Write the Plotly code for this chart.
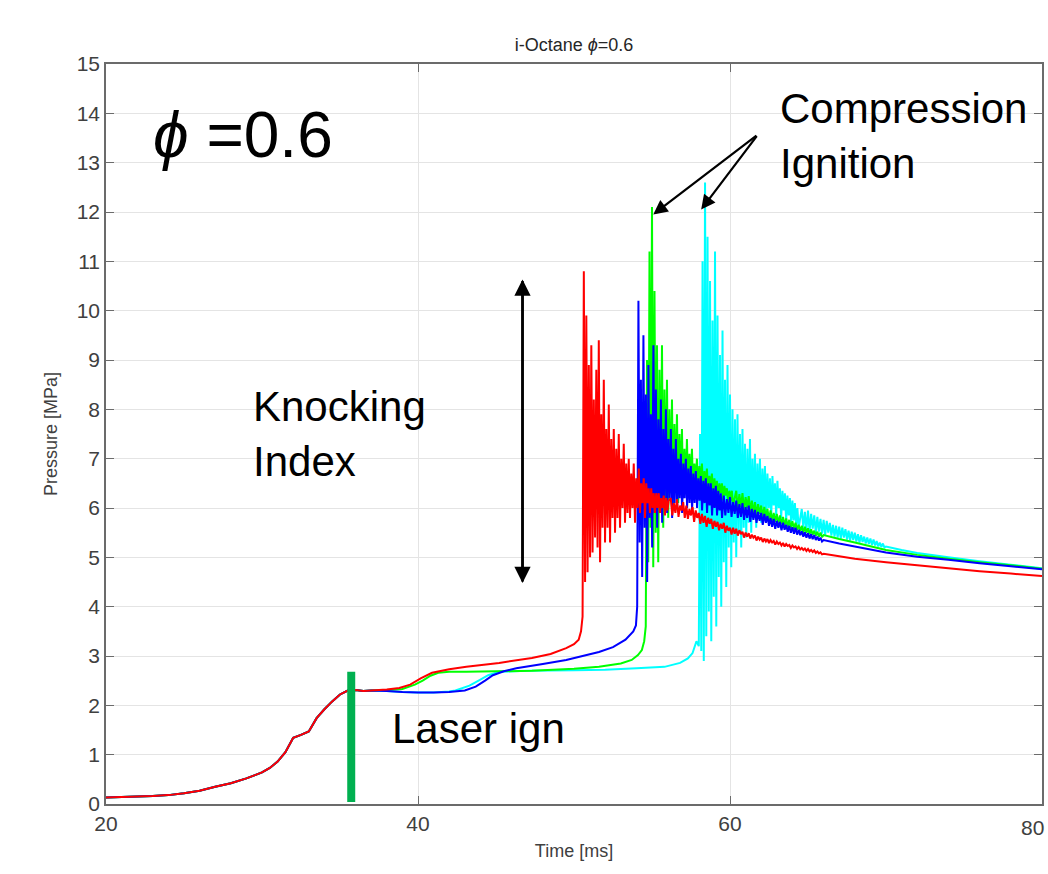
import plotly.graph_objects as go

# ---------------- data ----------------
# shared compression stroke before laser ignition (time ms, pressure MPa)
common_t = [20, 21, 22, 23, 24, 25, 26, 27, 28, 29, 30, 30.5, 31, 31.5, 32, 32.5,
            33, 33.5, 34, 34.5, 35, 35.5, 36, 36.5, 37]
common_p = [0.13, 0.14, 0.15, 0.16, 0.18, 0.22, 0.27, 0.35, 0.42, 0.52, 0.64, 0.73,
            0.86, 1.05, 1.34, 1.40, 1.47, 1.74, 1.92, 2.08, 2.22, 2.30, 2.31, 2.29, 2.30]

OSC_STEP = 0.08   # sampling of the knocking oscillation segment (ms)
RING_STEP = 0.1   # sampling of the decaying ringing segment (ms)

x_ticks = [20, 40, 60, 80]

# ---- red run
red_pre_t = [38, 38.8, 39.5, 40.2, 40.9, 42, 43.1, 45.2, 47.3, 48.5, 49.5, 50.0, 50.3, 50.45]
red_pre_p = [2.32, 2.35, 2.42, 2.55, 2.66, 2.73, 2.78, 2.86, 2.96, 3.04, 3.16, 3.24, 3.33, 3.5]
red_osc_t0 = 50.55
red_osc = [3.8, 10.8, 4.5, 9.9, 4.7, 8.9,
           5.0, 9.3, 5.1, 8.2, 5.4, 8.8, 5.2,
           9.4, 4.9, 7.9, 5.6, 8.6, 5.3, 7.6,
           5.6, 8.1, 5.3, 7.4, 5.8, 7.6, 5.5,
           7.2, 5.8, 7.5, 5.6, 7.0, 6.0, 7.3,
           5.7, 6.9, 5.9, 7.0, 5.8, 6.7, 6.0,
           6.9, 5.7, 6.6, 6.0, 6.8, 5.9, 6.5,
           6.1, 6.6, 5.8, 6.5, 6.1, 6.4, 5.9,
           6.4, 6.0, 6.3, 5.9, 6.3, 6.0, 6.3,
           5.9, 6.2, 6.0, 6.25, 5.85, 6.2, 5.95, 6.15]
red_ring_t0 = 56.2
red_ring = [6.2, 5.85, 6.1, 5.9, 6.18, 5.82, 6.05, 5.95, 6.12, 5.8,
            6.05, 5.78, 5.98, 5.85, 6.02, 5.72, 5.95, 5.8, 5.9, 5.68,
            5.88, 5.7, 5.84, 5.62, 5.8, 5.68, 5.78, 5.58, 5.74, 5.62,
            5.72, 5.55, 5.68, 5.58, 5.7, 5.5, 5.64, 5.54, 5.6, 5.46,
            5.6, 5.48, 5.58, 5.44, 5.55, 5.47, 5.52, 5.4, 5.5, 5.42,
            5.49, 5.38, 5.46, 5.4, 5.44, 5.34, 5.42, 5.36, 5.4, 5.31,
            5.38, 5.32, 5.37, 5.29, 5.35, 5.3, 5.33, 5.26, 5.32, 5.27,
            5.3, 5.24, 5.29, 5.22, 5.27, 5.23, 5.25, 5.19, 5.24, 5.2,
            5.22, 5.17, 5.21, 5.16, 5.19, 5.15, 5.18, 5.13, 5.17, 5.12,
            5.15, 5.11, 5.14, 5.09, 5.12, 5.08, 5.1, 5.06, 5.07]
red_dec_t = [67, 68, 70, 72, 74, 76, 78, 80]
red_dec_p = [5.02, 4.97, 4.9, 4.84, 4.78, 4.72, 4.67, 4.62]

# ---- blue run
blue_pre_t = [38, 39, 40, 41, 42, 43, 43.7, 44.3, 44.8, 45.5, 46.3, 48, 49.5, 51.6,
              52.5, 53.3, 53.8, 53.97]
blue_pre_p = [2.29, 2.27, 2.26, 2.26, 2.27, 2.30, 2.38, 2.50, 2.61, 2.69, 2.75, 2.84,
              2.92, 3.08, 3.18, 3.33, 3.5, 3.62]
blue_osc_t0 = 54.05
blue_osc = [4.0, 10.2, 5.3, 8.6, 4.6, 9.5, 5.6, 8.3, 4.5, 8.9, 5.8,
            7.9, 5.2, 9.3, 5.9, 8.4, 5.6, 7.8, 6.0, 8.2, 5.7,
            7.6, 6.1, 8.0, 5.9, 7.4, 6.2, 7.6, 5.8, 7.2, 6.1,
            7.4, 6.0, 7.0, 6.2, 7.1, 5.9, 6.9, 6.2, 7.0, 6.0,
            6.8, 6.1, 6.85, 5.95, 6.7, 6.1, 6.75, 6.0, 6.6, 6.15,
            6.65, 5.95, 6.55, 6.1, 6.6, 5.9, 6.5, 6.05, 6.5, 5.85,
            6.4, 6.0, 6.45, 5.85, 6.35, 5.95, 6.3, 5.8]
blue_ring_t0 = 59.6
blue_ring = [6.25, 5.85, 6.18, 5.9, 6.22, 5.82, 6.12, 5.88, 6.15, 5.8,
             6.08, 5.82, 6.1, 5.76, 6.02, 5.8, 6.05, 5.72, 5.98, 5.76,
             5.96, 5.7, 5.92, 5.74, 5.9, 5.66, 5.88, 5.7, 5.84, 5.64,
             5.8, 5.62, 5.78, 5.58, 5.74, 5.6, 5.72, 5.55, 5.7, 5.56,
             5.66, 5.52, 5.64, 5.5, 5.61, 5.48, 5.6, 5.46, 5.56, 5.45,
             5.53, 5.42, 5.51, 5.4, 5.49, 5.38, 5.47, 5.37, 5.45, 5.35,
             5.42, 5.34, 5.4, 5.32, 5.35]
blue_dec_t = [67, 68, 70, 72, 74, 76, 78, 80]
blue_dec_p = [5.28, 5.22, 5.1, 5.01, 4.95, 4.88, 4.82, 4.76]

# ---- green run
green_pre_t = [38, 39, 39.8, 40.3, 40.8, 41.3, 42, 43.1, 45, 47.3, 50, 51.6, 53, 53.7,
               54.1, 54.35, 54.5]
green_pre_p = [2.31, 2.33, 2.42, 2.50, 2.60, 2.66, 2.68, 2.68, 2.69, 2.70, 2.74, 2.78,
               2.85, 2.92, 3.02, 3.12, 3.3]
green_osc_t0 = 54.6
green_osc = [3.6, 9.0, 4.9, 11.2, 5.6, 12.1, 4.8, 10.4, 5.5, 9.3,
             4.9, 8.8, 6.0, 9.3, 5.6, 8.4, 6.2, 8.6, 5.8, 8.0,
             6.3, 8.2, 6.0, 7.7, 6.4, 7.9, 6.1, 7.5, 6.5, 7.6,
             6.2, 7.2, 6.4, 7.4, 6.3, 7.1, 6.5, 7.2, 6.3, 6.9,
             6.5, 7.0, 6.35, 6.85, 6.5, 6.9, 6.3, 6.75, 6.45, 6.8,
             6.3, 6.65, 6.4, 6.7, 6.25, 6.6, 6.35, 6.55, 6.2, 6.5,
             6.3, 6.5, 6.15, 6.45, 6.25, 6.4, 6.1, 6.35, 6.15, 6.35, 6.05]
green_ring_t0 = 60.4
green_ring = [6.35, 5.98, 6.28, 6.02, 6.3, 5.95, 6.22, 6.0, 6.24, 5.92,
              6.15, 5.9, 6.12, 5.85, 6.08, 5.88, 6.05, 5.82, 6.02, 5.8,
              5.98, 5.76, 5.95, 5.74, 5.9, 5.72, 5.88, 5.68, 5.85, 5.67,
              5.82, 5.64, 5.79, 5.62, 5.76, 5.6, 5.73, 5.58, 5.7, 5.56,
              5.66, 5.53, 5.64, 5.5, 5.62, 5.5, 5.59, 5.47, 5.57, 5.46,
              5.54, 5.44, 5.52, 5.42, 5.5, 5.41, 5.45]
green_dec_t = [67, 68, 70, 72, 74, 76, 78, 80]
green_dec_p = [5.37, 5.3, 5.15, 5.05, 4.97, 4.9, 4.84, 4.77]

# ---- cyan run
cyan_pre_t = [38, 39, 40, 41, 42, 42.4, 43.3, 44, 44.5, 45.2, 47, 50, 52, 54, 55.8,
              56.8, 57.3, 57.6, 57.85]
cyan_pre_p = [2.29, 2.27, 2.26, 2.26, 2.28, 2.30, 2.40, 2.52, 2.61, 2.68, 2.70, 2.71,
              2.72, 2.75, 2.78, 2.86, 2.95, 3.06, 3.3]
cyan_osc_t0 = 58.0
cyan_osc = [3.2, 7.5, 3.1, 11.0, 2.9, 12.6, 3.4, 11.5, 3.9, 10.6,
            3.3, 9.8, 4.2, 11.2, 3.6, 9.9, 4.6, 9.1, 4.0, 9.6,
            4.9, 8.6, 4.4, 8.9, 5.2, 8.3, 4.8, 8.0, 5.3, 7.8,
            5.0, 7.9, 5.5, 7.5, 5.2, 7.6, 5.6, 7.3, 5.4, 7.2,
            5.7, 7.4, 5.5, 7.0, 5.8, 7.1, 5.6, 6.9, 5.9, 7.0,
            5.7, 6.8, 6.0, 6.85, 5.8, 6.7, 6.0, 6.6, 5.8, 6.65,
            6.05, 6.5, 5.85, 6.55, 6.0, 6.4, 5.8, 6.35, 5.95, 6.3,
            5.75, 6.25, 5.85, 6.2, 5.7, 6.15, 5.75, 6.1, 5.65, 6.0, 5.6]
cyan_ring_t0 = 64.6
cyan_ring = [5.98, 5.6, 5.92, 5.55, 5.95, 5.52, 5.88, 5.58, 5.85, 5.5,
             5.82, 5.52, 5.78, 5.48, 5.76, 5.45, 5.74, 5.5, 5.7, 5.44,
             5.66, 5.42, 5.64, 5.4, 5.62, 5.38, 5.6, 5.4, 5.57, 5.36,
             5.54, 5.34, 5.52, 5.35, 5.5, 5.32, 5.47, 5.3, 5.45, 5.31,
             5.42, 5.28, 5.4, 5.27, 5.38, 5.25, 5.36, 5.24, 5.33, 5.22,
             5.3, 5.21, 5.28, 5.2, 5.22]
cyan_dec_t = [71, 72, 74, 76, 78, 80]
cyan_dec_p = [5.15, 5.09, 5.0, 4.92, 4.85, 4.78]

# annotation anchors (data coordinates)
laser_t = 35.72
laser_p = [0.04, 2.68]
knock_x = 46.7
knock_lo, knock_hi = 4.48, 10.63
ci_from = (61.79, 13.57)
ci_green_tip = (55.08, 11.95)
ci_cyan_tip = (58.15, 12.05)

# ---------------- figure ----------------
FONT = "Liberation Sans, Arial, Helvetica, sans-serif"
TICK_FONT = dict(family=FONT, size=21, color="#404040")


def build(pre_t, pre_p, osc_t0, osc, ring_t0, ring, dec_t, dec_p):
    t = (list(common_t) + list(pre_t)
         + [osc_t0 + OSC_STEP * i for i in range(len(osc))]
         + [ring_t0 + RING_STEP * i for i in range(len(ring))]
         + list(dec_t))
    p = list(common_p) + list(pre_p) + list(osc) + list(ring) + list(dec_p)
    return t, p


runs = [
    ("cyan", "#00ffff", cyan_pre_t, cyan_pre_p, cyan_osc_t0, cyan_osc, cyan_ring_t0, cyan_ring, cyan_dec_t, cyan_dec_p),
    ("green", "#00ff00", green_pre_t, green_pre_p, green_osc_t0, green_osc, green_ring_t0, green_ring, green_dec_t, green_dec_p),
    ("blue", "#0000ff", blue_pre_t, blue_pre_p, blue_osc_t0, blue_osc, blue_ring_t0, blue_ring, blue_dec_t, blue_dec_p),
    ("red", "#ff0000", red_pre_t, red_pre_p, red_osc_t0, red_osc, red_ring_t0, red_ring, red_dec_t, red_dec_p),
]

fig = go.Figure()
for name, color, *args in runs:
    t, p = build(*args)
    fig.add_trace(go.Scatter(x=t, y=p, mode="lines", name=name,
                             line=dict(color=color, width=2.0, simplify=False), showlegend=False))

# laser ignition marker
fig.add_trace(go.Scatter(x=[laser_t, laser_t], y=laser_p, mode="lines",
                         line=dict(color="rgb(0,176,80)", width=8), showlegend=False))

annotations = []
big = dict(family=FONT, size=42, color="black")
annotations.append(dict(x=22.9, y=13.57, xref="x", yref="y", text="<i>ϕ</i> =0.6",
                        showarrow=False, xanchor="left", yanchor="middle",
                        font=dict(family=FONT, size=64, color="black")))
annotations.append(dict(x=63.1, y=13.55, xref="x", yref="y", text="Compression<br>Ignition",
                        showarrow=False, xanchor="left", yanchor="middle", align="left", font=big))
annotations.append(dict(x=29.3, y=7.5, xref="x", yref="y", text="Knocking<br>Index",
                        showarrow=False, xanchor="left", yanchor="middle", align="left", font=big))
annotations.append(dict(x=38.2, y=1.54, xref="x", yref="y", text="Laser ign",
                        showarrow=False, xanchor="left", yanchor="middle", font=big))
# last x tick label sits at the right page edge; kept fully inside the page
annotations.append(dict(x=x_ticks[-1], y=0, xref="x", yref="y", text=str(x_ticks[-1]),
                        showarrow=False, xanchor="right", yanchor="middle", yshift=-23, xshift=4,
                        font=TICK_FONT))

# double-headed knocking-index arrow: two full-length arrows in opposite directions
for tip, tail in ((knock_hi, knock_lo), (knock_lo, knock_hi)):
    annotations.append(dict(x=knock_x, y=tip, ax=knock_x, ay=tail, xref="x", yref="y",
                            axref="x", ayref="y", text="", showarrow=True, arrowhead=2,
                            arrowsize=1.3, arrowwidth=2.5, arrowcolor="black"))
for tip in (ci_green_tip, ci_cyan_tip):
    annotations.append(dict(x=tip[0], y=tip[1], ax=ci_from[0], ay=ci_from[1], xref="x", yref="y",
                            axref="x", ayref="y", text="", showarrow=True, arrowhead=2,
                            arrowsize=1.3, arrowwidth=2.2, arrowcolor="black"))

axis_common = dict(showline=True, linecolor="#6b6b6b", linewidth=1.5, mirror="ticks",
                   ticks="inside", ticklen=8, tickwidth=1, tickcolor="#6b6b6b",
                   showgrid=True, gridcolor="#e4e4e4", gridwidth=1, zeroline=False,
                   tickfont=TICK_FONT)

fig.update_layout(
    width=1048, height=874,
    margin=dict(l=106, r=4, t=64, b=70),
    paper_bgcolor="white", plot_bgcolor="white",
    title=dict(text="i-Octane <i>ϕ</i>=0.6", x=0.5, xref="paper", xanchor="center",
               y=1 - 45 / 874, yref="container", yanchor="middle",
               font=dict(family=FONT, size=18, color="#262626")),
    xaxis=dict(range=[20, 80], tickvals=x_ticks,
               title=dict(text="Time [ms]", font=dict(family=FONT, size=18, color="#404040"), standoff=10),
               **axis_common),
    yaxis=dict(range=[0, 15], dtick=1, tick0=0,
               title=dict(text="Pressure [MPa]", font=dict(family=FONT, size=18, color="#404040"), standoff=14),
               **axis_common),
    annotations=annotations,
    showlegend=False,
)

# remove the default 8px page margin so the figure fills the window exactly
fig.write_html("out.html", config={"displayModeBar": False},
               post_script="document.body.style.margin='0px';document.body.style.overflow='hidden';")
